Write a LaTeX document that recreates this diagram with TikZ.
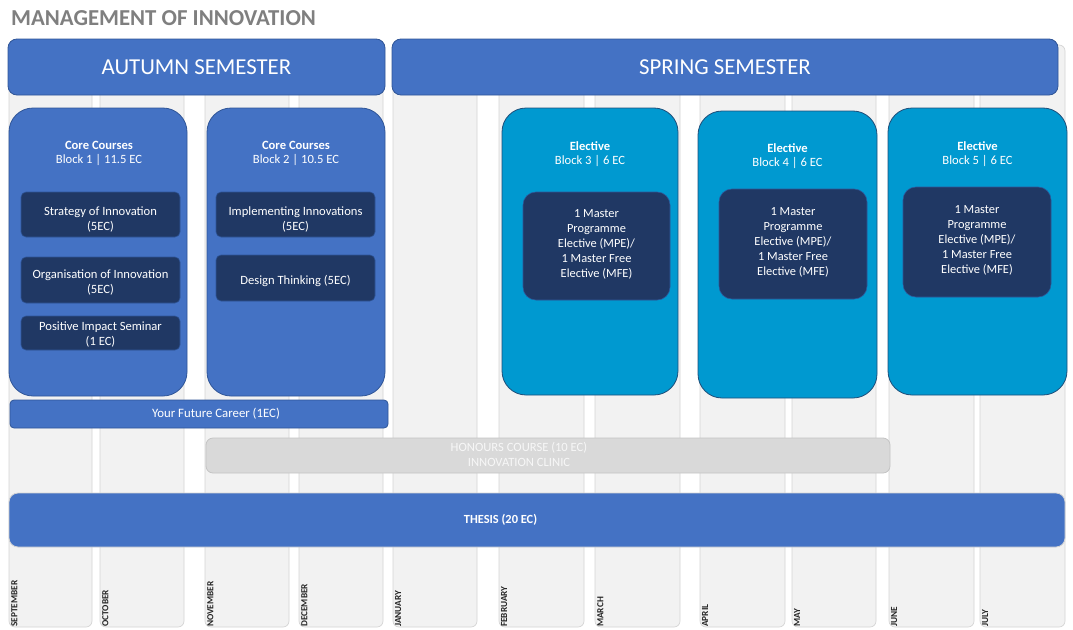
\documentclass[tikz,border=0pt]{standalone}
\usepackage{fontspec}
\setmainfont{Carlito}
\definecolor{colfill}{HTML}{F2F2F2}
\definecolor{colline}{HTML}{D4D4D4}
\definecolor{coreblue}{HTML}{4472C4}
\definecolor{coreline}{HTML}{2F5597}
\definecolor{elecblue}{HTML}{0099D0}
\definecolor{elecline}{HTML}{1F4E79}
\definecolor{navy}{HTML}{203864}
\definecolor{navyline}{HTML}{2F5597}
\definecolor{hongray}{HTML}{D9D9D9}
\definecolor{honline}{HTML}{C4C4C4}
\definecolor{hontxt}{HTML}{F7F7F7}
\definecolor{titlegray}{HTML}{7F7F7F}
\definecolor{monthtxt}{HTML}{262626}
\tikzset{
  colbox/.style={rectangle, rounded corners=6pt, fill=colfill, draw=colline, line width=0.7pt, inner sep=0pt},
  semhead/.style={rectangle, rounded corners=9pt, fill=coreblue, draw=coreline, line width=0.8pt, inner sep=0pt, text=white, font=\fontsize{22.8}{26}\selectfont},
  coreblock/.style={rectangle, rounded corners=24pt, fill=coreblue, draw=coreline, line width=0.8pt, inner sep=0pt},
  elecblock/.style={rectangle, rounded corners=24pt, fill=elecblue, draw=elecline, line width=0.8pt, inner sep=0pt},
  darkbox/.style={rectangle, rounded corners=5pt, fill=navy, draw=navyline, line width=0.6pt, inner sep=0pt},
  darktxt/.style={text=white, align=center, inner sep=0pt, font=\fontsize{12.6}{15}\selectfont},
  darkelec/.style={rectangle, rounded corners=13pt, fill=navy, draw=navyline, line width=0.6pt, inner sep=0pt},
  bartxt/.style={text=white, align=center, inner sep=0pt},
  blocktitle/.style={text=white, font=\bfseries\fontsize{12.6}{15}\selectfont, inner sep=0pt},
  blocksub/.style={text=white, font=\fontsize{12.6}{15}\selectfont, inner sep=0pt},
  monthlbl/.style={rotate=90, anchor=north west, inner sep=0pt, text=monthtxt, font=\bfseries\fontsize{9.3}{11}\selectfont}
}
\begin{document}
\begin{tikzpicture}[x=1pt,y=-1pt]
\useasboundingbox (0,0) rectangle (1073,629);
% month columns
\foreach \l/\r/\m/\n in {9/92/SEPTEMBER/sep,100/184/OCTOBER/oct,205/289/NOVEMBER/nov,299/383/DECEMBER/dec,393/477/JANUARY/jan,499/584/FEBRUARY/feb,595/680/MARCH/mar,700/785/APRIL/apr,792/876/MAY/may,889/974/JUNE/jun,980/1065/JULY/jul}{
  \node[colbox, minimum width={(\r-\l)*1pt}, minimum height=582pt] (col\n) at ({(\l+\r)/2}, 336) {};
  \node[monthlbl] (lbl\n) at ({\l+2}, 627) {\m};
}
% title
\node[anchor=base west, inner sep=0pt, text=titlegray, font=\bfseries\fontsize{22.8}{26}\selectfont] (title) at (11,25.5) {MANAGEMENT OF INNOVATION};
% semester headers
\node[semhead, minimum width=377pt, minimum height=56pt] (autumn) at (196.5,67) {AUTUMN SEMESTER};
\node[semhead, minimum width=666pt, minimum height=56pt] (spring) at (725,67) {SPRING SEMESTER};
% core blocks
\node[coreblock, minimum width=178pt, minimum height=288pt] (b1) at (98,252) {};
\node[coreblock, minimum width=178pt, minimum height=288pt] (b2) at (296,252) {};
\node[blocktitle] (b1t) at (99,145) {Core Courses};
\node[blocksub] (b1s) at (99,160) {Block 1 | 11.5 EC};
\node[blocktitle] (b2t) at (296,145) {Core Courses};
\node[blocksub] (b2s) at (296,160) {Block 2 | 10.5 EC};
\node[darkbox, minimum width=159pt, minimum height=45pt] (s1) at (100.5,214.5) {};
\node[darktxt] (s1t) at (100.5,220) {Strategy of Innovation\\(5EC)};
\node[darkbox, minimum width=159pt, minimum height=46pt] (s2) at (100.5,280) {};
\node[darktxt] (s2t) at (100.5,283) {Organisation of Innovation\\(5EC)};
\node[darkbox, minimum width=159pt, minimum height=34pt] (s3) at (100.5,333) {};
\node[darktxt] (s3t) at (100.5,334.5) {Positive Impact Seminar\\(1 EC)};
\node[darkbox, minimum width=159pt, minimum height=45pt] (i1) at (295.5,214.5) {};
\node[darktxt] (i1t) at (295.5,219) {Implementing Innovations\\(5EC)};
\node[darkbox, minimum width=159pt, minimum height=46pt] (i2) at (295.5,278) {};
\node[darktxt] (i2t) at (295.5,280.5) {Design Thinking (5EC)};
% elective blocks
\node[elecblock, minimum width=176pt, minimum height=287pt] (b3) at (590,251.5) {};
\node[elecblock, minimum width=179pt, minimum height=287pt] (b4) at (787.5,254.5) {};
\node[elecblock, minimum width=179pt, minimum height=287pt] (b5) at (977.5,251.5) {};
\node[blocktitle] (b3t) at (590,146) {Elective};
\node[blocksub] (b3s) at (590,160.5) {Block 3 | 6 EC};
\node[blocktitle] (b4t) at (787.5,148) {Elective};
\node[blocksub] (b4s) at (787.5,163) {Block 4 | 6 EC};
\node[blocktitle] (b5t) at (977.5,146) {Elective};
\node[blocksub] (b5s) at (977.5,160.5) {Block 5 | 6 EC};
\foreach \cx/\cy/\w/\h/\n in {596.5/246/147/108/e3,793/244/148/110/e4,977/242/148/110/e5}{
  \node[darkelec, minimum width={\w*1pt}, minimum height={\h*1pt}] (\n) at (\cx,\cy) {};
  \node[bartxt, font=\fontsize{12.4}{15}\selectfont] (\n t) at (\cx,\cy-2) {1 Master\\Programme\\Elective (MPE)/\\1 Master Free\\Elective (MFE)};
}
% bars
\node[rectangle, rounded corners=4pt, fill=coreblue, draw=coreline, line width=0.8pt, minimum width=378pt, minimum height=28pt] (career) at (199,414) {};
\node[bartxt, font=\fontsize{12.8}{15}\selectfont] (careert) at (216,414) {Your Future Career (1EC)};
\node[rectangle, rounded corners=7pt, fill=hongray, draw=honline, line width=0.8pt, minimum width=684pt, minimum height=35pt] (honours) at (548,455.5) {};
\node[bartxt, text=hontxt, font=\fontsize{12.6}{15}\selectfont] (honourst) at (519,454) {HONOURS COURSE (10 EC)\\INNOVATION CLINIC};
\node[rectangle, rounded corners=9pt, fill=coreblue, draw=colline, line width=0.8pt, minimum width=1056pt, minimum height=54pt] (thesis) at (537,520) {};
\node[bartxt, font=\bfseries\fontsize{12.4}{14}\selectfont] (thesist) at (500.5,520) {THESIS (20 EC)};
\end{tikzpicture}
\end{document}
